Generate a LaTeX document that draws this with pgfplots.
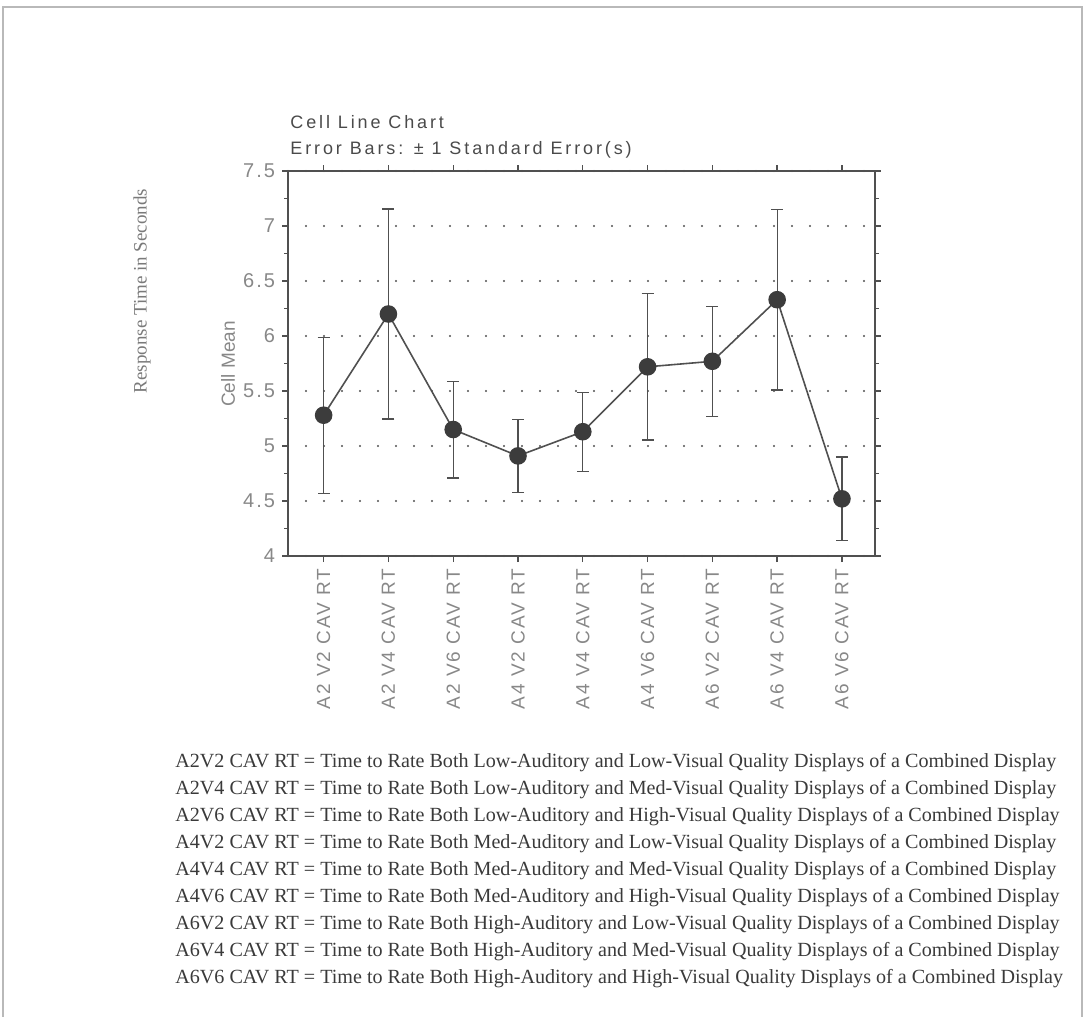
\documentclass[border=0pt]{standalone}
\usepackage{pgfplots}
\pgfplotsset{compat=1.18}
\usepackage{fontspec}
\setmainfont{Liberation Serif}
\setsansfont{Liberation Sans}
\newfontfamily\sansls[LetterSpace=16]{Liberation Sans}
\newfontfamily\sansxl[LetterSpace=10]{Liberation Sans}
\definecolor{axisgray}{HTML}{505050}
\definecolor{markgray}{HTML}{3C3C3C}
\definecolor{labelgray}{HTML}{888888}
\definecolor{textgray}{HTML}{3A3A3A}
\definecolor{titlegray}{HTML}{4A4A4A}
\pgfplotstableread{
x y e
0 5.28 0.71
1 6.20 0.955
2 5.15 0.44
3 4.91 0.33
4 5.13 0.36
5 5.72 0.665
6 5.77 0.50
7 6.33 0.82
8 4.52 0.38
}\celldata
\begin{document}
\begin{tikzpicture}
\path[use as bounding box] (0pt,0pt) rectangle (541.5pt,-508.5pt);
\draw[gray!55, line width=0.6pt] (1.5pt,-508.5pt) -- (1.5pt,-3.5pt) -- (541pt,-3.5pt) -- (541pt,-508.5pt);
\begin{axis}[
  at={(144pt,-278pt)}, anchor=south west,
  scale only axis, width=293.5pt, height=192.5pt,
  xmin=-0.55, xmax=8.51, ymin=4, ymax=7.5,
  ytick={4,4.5,5,5.5,6,6.5,7,7.5},
  yticklabels={4,4.5,5,5.5,6,6.5,7,7.5},
  minor y tick num=1,
  xtick={0,1,2,3,4,5,6,7,8},
  xticklabels={A2 V2 CAV RT,A2 V4 CAV RT,A2 V6 CAV RT,A4 V2 CAV RT,A4 V4 CAV RT,A4 V6 CAV RT,A6 V2 CAV RT,A6 V4 CAV RT,A6 V6 CAV RT},
  tick align=outside,
  major tick length=3pt, minor tick length=2pt,
  tick style={axisgray, line width=0.7pt},
  axis line style={axisgray, line width=1pt},
  ymajorgrids,
  major grid style={axisgray, line width=1.1pt, line cap=round, dash pattern=on 0pt off 9pt},
  yticklabel style={font=\fontsize{10}{10}\selectfont\sansxl, text=labelgray},
  xticklabel style={font=\fontsize{9.5}{9.5}\selectfont\sansxl, text=labelgray, rotate=90, anchor=east},
  /pgf/number format/assume math mode=true,
  clip=false,
]
\addplot[axisgray, line width=0.8pt, mark=*, mark size=4pt,
  mark options={fill=markgray, draw=markgray},
  error bars/.cd, y dir=both, y explicit,
  error bar style={axisgray, line width=0.6pt},
  error mark options={rotate=90, mark size=3pt, line width=0.6pt, axisgray}]
  table[x=x, y=y, y error=e] {\celldata};
\end{axis}
\node[anchor=base west, font=\fontsize{9}{9}\selectfont\sansls, text=titlegray, inner sep=0pt] at (145pt,-64pt) {Cell Line Chart};
\node[anchor=base west, font=\fontsize{9}{9}\selectfont\sansls, text=titlegray, inner sep=0pt] at (145pt,-77pt) {Error Bars: ± 1 Standard Error(s)};
\node[rotate=90, font=\fontsize{9.5}{9.5}\selectfont\sffamily, text=labelgray] at (114pt,-182pt) {Cell Mean};
\node[rotate=90, font=\fontsize{9.5}{9.5}\selectfont\rmfamily, text=labelgray!90!black] at (71pt,-145.5pt) {Response Time in Seconds};
\begin{scope}[every node/.style={anchor=base west, inner sep=0pt, font=\fontsize{10.05}{10.05}\selectfont\rmfamily, text=textgray}]
\node at (87.5pt,-383.5pt) {A2V2 CAV RT = Time to Rate Both Low-Auditory and Low-Visual Quality Displays of a Combined Display};
\node at (87.5pt,-397pt) {A2V4 CAV RT = Time to Rate Both Low-Auditory and Med-Visual Quality Displays of a Combined Display};
\node at (87.5pt,-410.5pt) {A2V6 CAV RT = Time to Rate Both Low-Auditory and High-Visual Quality Displays of a Combined Display};
\node at (87.5pt,-424pt) {A4V2 CAV RT = Time to Rate Both Med-Auditory and Low-Visual Quality Displays of a Combined Display};
\node at (87.5pt,-437.5pt) {A4V4 CAV RT = Time to Rate Both Med-Auditory and Med-Visual Quality Displays of a Combined Display};
\node at (87.5pt,-451pt) {A4V6 CAV RT = Time to Rate Both Med-Auditory and High-Visual Quality Displays of a Combined Display};
\node at (87.5pt,-464.5pt) {A6V2 CAV RT = Time to Rate Both High-Auditory and Low-Visual Quality Displays of a Combined Display};
\node at (87.5pt,-478pt) {A6V4 CAV RT = Time to Rate Both High-Auditory and Med-Visual Quality Displays of a Combined Display};
\node at (87.5pt,-491.5pt) {A6V6 CAV RT = Time to Rate Both High-Auditory and High-Visual Quality Displays of a Combined Display};
\end{scope}
\end{tikzpicture}
\end{document}
